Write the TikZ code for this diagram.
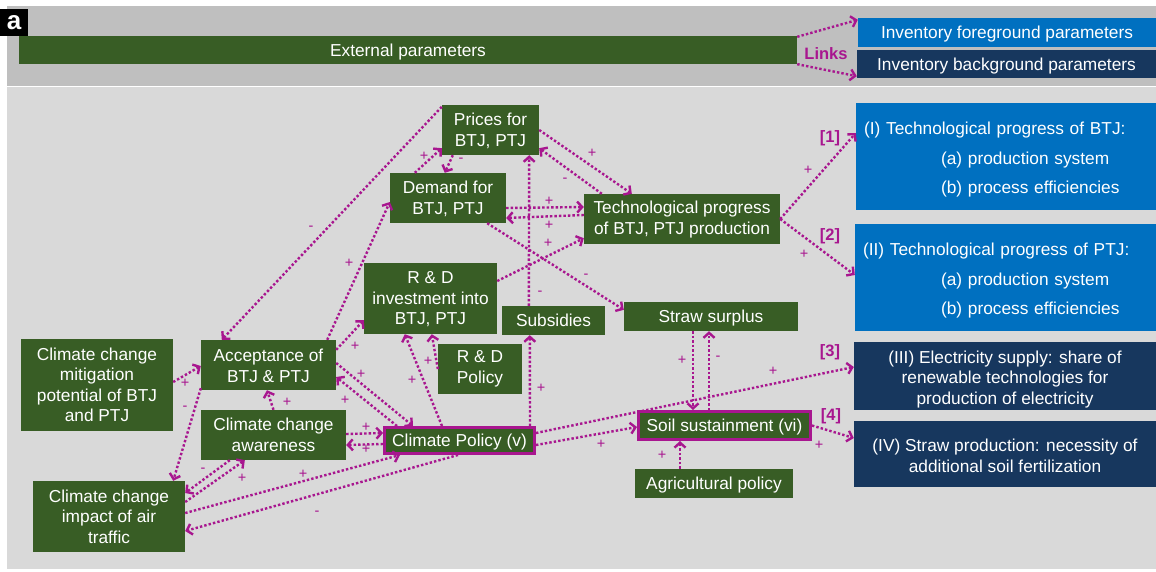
\documentclass[tikz,border=0pt]{standalone}
\usepackage{fontspec}
\setmainfont{Liberation Sans}
\usetikzlibrary{arrows.meta}

\definecolor{grn}{RGB}{56,93,37}
\definecolor{blu}{RGB}{0,112,192}
\definecolor{nav}{RGB}{23,55,94}
\definecolor{mag}{RGB}{168,22,143}
\definecolor{band}{RGB}{191,191,191}
\definecolor{panel}{RGB}{217,217,217}

\begin{document}
\begin{tikzpicture}[x=1pt,y=-1pt]
\tikzstyle{every node}=[font=\fontsize{17.3}{20.5}\selectfont]
\tikzstyle{grbox}=[fill=grn,text=white,inner sep=0pt,align=center]
\tikzstyle{bluebox}=[grbox,fill=blu]
\tikzstyle{navbox}=[grbox,fill=nav]
\tikzstyle{pol}=[grbox,draw=mag,line width=3pt]
\tikzstyle{one}=[text height=12.4pt,text depth=0pt]
\tikzstyle{infl}=[mag,line width=2.4pt,dash pattern=on 2.4pt off 2.1pt,-{Straight Barb[length=5pt,width=11pt]}]
\tikzstyle{sign}=[text=mag,inner sep=0pt,font=\fontsize{14.5}{14.5}\selectfont]
\tikzstyle{num}=[text=mag,inner sep=0pt,font=\bfseries\fontsize{16.5}{16.5}\selectfont]

\useasboundingbox (0,0) rectangle (1156,571);

% grey panels
\fill[band] (7,6) rectangle (1156,86);
\fill[panel] (7,87) rectangle (1156,569);
\node[fill=black,text=white,inner sep=0pt,minimum width=28pt,minimum height=27pt,font=\bfseries\fontsize{26}{26}\selectfont] (lbl) at (14,22.5) {a};

% top band
\node[grbox,one,minimum width=778pt,minimum height=28pt] (ext) at (408,50) {External parameters};
\node[bluebox,one,minimum width=298pt,minimum height=29pt] (invfg) at (1007,32.5) {Inventory foreground parameters};
\node[navbox,one,minimum width=299pt,minimum height=28pt] (invbg) at (1006.5,64) {Inventory background parameters};
\node[num,one] (links) at (826,53) {Links};
\draw[infl] ([yshift=-1pt]ext.north east) -- ([yshift=-2pt]invfg.north west);
\draw[infl] (ext.south east) -- ([yshift=2pt]invbg.south west);

% system nodes
\node[grbox,minimum width=97pt,minimum height=50pt] (prices) at (490.5,130) {\rule{0pt}{14pt}Prices for\\BTJ, PTJ};
\node[grbox,minimum width=116pt,minimum height=50pt] (demand) at (448,198) {\rule{0pt}{14pt}Demand for\\BTJ, PTJ};
\node[grbox,minimum width=196pt,minimum height=50pt] (tech) at (682,219) {\rule{0pt}{14pt}Technological progress\\of BTJ, PTJ production};
\node[grbox,minimum width=133pt,minimum height=71pt] (rdinv) at (430.5,298.5) {\rule{0pt}{14pt}R \& D\\investment into\\BTJ, PTJ};
\node[grbox,one,minimum width=103pt,minimum height=29pt] (subs) at (553.5,320.5) {Subsidies};
\node[grbox,one,minimum width=174pt,minimum height=29pt] (straw) at (711,316.5) {Straw surplus};
\node[grbox,minimum width=84pt,minimum height=50pt] (rdpol) at (480,369) {R \& D\\Policy};
\node[grbox,minimum width=152pt,minimum height=92pt] (mitig) at (97,385) {Climate change\\mitigation\\potential of BTJ\\and PTJ};
\node[grbox,minimum width=135pt,minimum height=50pt] (accept) at (268.5,365) {\rule{0pt}{14pt}Acceptance of\\BTJ \& PTJ};
\node[grbox,minimum width=145pt,minimum height=50pt] (aware) at (273.5,435) {Climate change\\awareness};
\node[grbox,minimum width=152pt,minimum height=71pt] (impact) at (109,516.5) {Climate change\\impact of air\\traffic};
\node[pol,one,minimum width=150pt,minimum height=26pt] (cpol) at (459.5,440.5) {Climate Policy (v)};
\node[pol,one,minimum width=172pt,minimum height=28pt] (soil) at (724.5,425.5) {Soil sustainment (vi)};
\node[grbox,one,minimum width=158pt,minimum height=29pt] (agri) at (714,483.5) {Agricultural policy};

% inventory links
\node[bluebox,minimum width=300pt,minimum height=107pt,text width=284pt,inner xsep=8pt,align=left,font=\fontsize{17.3}{29.5}\selectfont] (btj) at (1006,156.5) {\rule{0pt}{18.6pt}(I) Technological progress of BTJ:\\ \hspace*{77pt}(a) production system\\ \hspace*{77pt}(b) process efficiencies};
\node[bluebox,minimum width=301pt,minimum height=107pt,text width=285pt,inner xsep=8pt,align=left,font=\fontsize{17.3}{29.5}\selectfont] (ptj) at (1005.5,277.5) {\rule{0pt}{18.6pt}(II) Technological progress of PTJ:\\ \hspace*{78pt}(a) production system\\ \hspace*{78pt}(b) process efficiencies};
\node[navbox,minimum width=302pt,minimum height=68pt] (elec) at (1005,376) {\rule{0pt}{18.6pt}(III) Electricity supply: share of\\renewable technologies for\\production of electricity};
\node[navbox,minimum width=302pt,minimum height=66pt] (strawprod) at (1005,454) {\rule{0pt}{16pt}(IV) Straw production: necessity of\\additional soil fertilization};

% influences
\draw[infl] ([yshift=-2pt]prices.north west) -- ([xshift=21pt]accept.north west);
\draw[infl] ([xshift=-9pt]accept.north east) -- ([yshift=-4pt]demand.west);
\draw[infl] ([xshift=25pt]demand.north west) -- ([yshift=7pt]prices.south west);
\draw[infl] ([xshift=11pt]prices.south west) -- ([xshift=55pt]demand.north west);
\draw[infl] (prices.east) -- ([xshift=48pt]tech.north west);
\draw[infl] ([xshift=18pt]tech.north west) -- ([yshift=7pt]prices.south east);
\draw[infl] ([yshift=-10pt]demand.east) -- ([yshift=12pt]tech.west);
\draw[infl] ([yshift=4pt]tech.west) -- ([yshift=-20pt]demand.east);
\draw[infl] ([yshift=17.5pt]rdinv.east) -- ([yshift=6pt]tech.south west);
\draw[infl] ([xshift=-19pt]demand.south east) -- ([yshift=-8pt]straw.north west);
\draw[infl] ([xshift=27pt]subs.north west) -- ([xshift=-10pt]prices.south east);
\draw[infl] ([xshift=-6pt]cpol.north east) -- ([xshift=28pt]subs.south west);
\draw[infl] ([yshift=-10pt]accept.north east) -- ([yshift=14pt]rdinv.south west);
\draw[infl] ([yshift=3pt]mitig.east) -- ([yshift=-1pt]accept.west);
\draw[infl] ([yshift=2pt]accept.south west) -- ([xshift=-12pt]impact.north east);
\draw[infl] (aware.north) -- ([xshift=-1.5pt]accept.south);
\draw[infl] ([yshift=2pt]accept.east) -- ([xshift=30pt]cpol.north west);
\draw[infl] ([xshift=14pt]cpol.north west) -- ([yshift=-12pt]accept.east);
\draw[infl] ([yshift=1pt]aware.east) -- ([yshift=7.5pt]cpol.west);
\draw[infl] ([yshift=-3.5pt]cpol.west) -- ([yshift=-10pt]aware.east);
\draw[infl] ([yshift=14.5pt]impact.east) -- ([xshift=44pt]aware.south west);
\draw[infl] ([xshift=29pt]aware.south west) -- ([yshift=23.5pt]impact.east);
\draw[infl] ([yshift=3.5pt]impact.east) -- ([xshift=17pt]cpol.south west);
\draw[infl] ([xshift=75pt]cpol.south west) -- ([yshift=-14.5pt]impact.east);
\draw[infl] ([xshift=59pt]cpol.north west) -- ([xshift=41pt]rdinv.south west);
\draw[infl] (rdpol.west) -- ([xshift=68pt]rdinv.south west);
\draw[infl] ([yshift=-4.5pt]cpol.east) -- ([yshift=-1.5pt]soil.west);
\draw[infl] ([yshift=7.5pt]cpol.east) -- ([yshift=9pt]elec.west);
\draw[infl] ([xshift=-18pt]straw.south) -- ([xshift=-31.5pt]soil.north);
\draw[infl] ([xshift=-15.5pt]soil.north) -- ([xshift=-2pt]straw.south);
\draw[infl] ([xshift=-34pt]agri.north) -- ([xshift=-44.5pt]soil.south);
\draw[infl] (soil.east) -- ([yshift=16pt]strawprod.west);
\draw[infl] (tech.east) -- ([yshift=23.5pt]btj.west);
\draw[infl] (tech.east) -- ([yshift=2.5pt]ptj.west);

% signs
\foreach \x/\y [count=\i] in {349/263,424/156,592/153,549/201,549/225,548/243,541/388,355/346,185/383,287/402,361/374,345/400,366/427,366/449,242/478,303/474,412/380,428/361,601/444,773/371,682/360,662/455,819/445,808/170,804/254}
	\node[sign] (p\i) at (\x,\y) {+};
\foreach \x/\y [count=\i] in {311/228,461/160,565/180,586/276,540/293,185/408,203/470,317/513,718/358}
	\node[sign] (m\i) at (\x,\y) {-};

% link numbers
\node[num] (n1) at (830,138) {[1]};
\node[num] (n2) at (830,236) {[2]};
\node[num] (n3) at (830,352) {[3]};
\node[num] (n4) at (831,416) {[4]};

\end{tikzpicture}
\end{document}
